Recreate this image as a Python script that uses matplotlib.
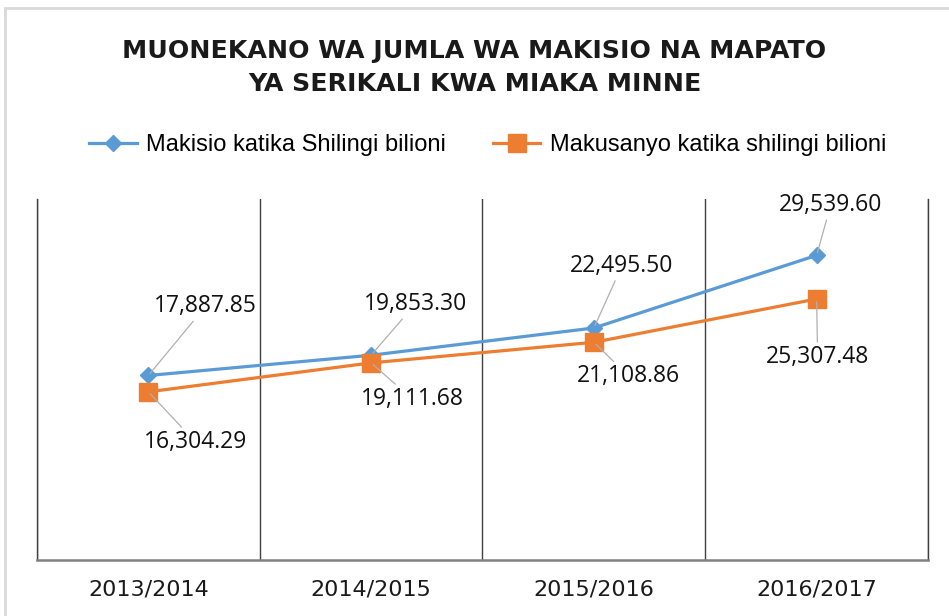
import numpy as np
import matplotlib
matplotlib.use("Agg")
import matplotlib.pyplot as plt
from matplotlib.patches import Rectangle

# DATA ------------------------------------------------------------------------
years = ["2013/2014", "2014/2015", "2015/2016", "2016/2017"]
makisio = [17887.85, 19853.30, 22495.50, 29539.60]
makusanyo = [16304.29, 19111.68, 21108.86, 25307.48]
name_makisio = "Makisio katika Shilingi bilioni"
name_makusanyo = "Makusanyo katika shilingi bilioni"
title = "MUONEKANO WA JUMLA WA MAKISIO NA MAPATO\nYA SERIKALI KWA MIAKA MINNE"

# label offsets in pixels (label centre relative to point)
off_makisio = [(57, 69), (44, 51), (28, 62), (14, 50)]
off_makusanyo = [(47, -50), (41, -36), (35, -34), (1, -58)]

blue = "#5B9BD5"
orange = "#ED7D31"

# PLOT ------------------------------------------------------------------------
fig = plt.figure(figsize=(9.49, 6.16), dpi=100)
ax = fig.add_axes([37 / 949, 56 / 616, 891 / 949, 361 / 616])

x = np.arange(len(years))
ax.plot(x, makisio, color=blue, lw=2.3, marker="D", ms=8.5, label=name_makisio)
ax.plot(x, makusanyo, color=orange, lw=2.3, marker="s", ms=12.5, label=name_makusanyo)

ax.set_xlim(-0.5, len(years) - 0.5)
ax.set_ylim(0, 35000)
ax.set_yticks([])
ax.set_xticks(x)
ax.set_xticklabels(years, fontsize=16, family="DejaVu Sans", color="#1a1a1a")
ax.set_xticks(np.arange(len(years) + 1) - 0.5, minor=True)
ax.tick_params(axis="x", which="both", length=0, pad=14)
ax.grid(which="minor", axis="x", color="#404040", lw=1)

for side in ["left", "right"]:
    ax.spines[side].set_color("#404040")
    ax.spines[side].set_linewidth(1)
ax.spines["top"].set_visible(False)
ax.spines["bottom"].set_color("#808080")
ax.spines["bottom"].set_linewidth(1.8)

# data labels with leader lines
for vals, offs in [(makisio, off_makisio), (makusanyo, off_makusanyo)]:
    for xi, v, (dx, dy) in zip(x, vals, offs):
        ax.annotate(f"{v:,.2f}", xy=(xi, v), xytext=(dx, dy),
                    textcoords="offset pixels", ha="center", va="center",
                    fontsize=16.5, family="Open Sans", color="#111111",
                    arrowprops=dict(arrowstyle="-", color="#b0b0b0", lw=0.9,
                                    shrinkA=0, shrinkB=2))

fig.text(0.5, 1 - 67.5 / 616, title, ha="center", va="center",
         fontsize=18.2, fontweight="bold", family="DejaVu Sans",
         linespacing=1.45, color="#1a1a1a")

fig.legend(loc="center", bbox_to_anchor=(0.514, 1 - 145 / 616), ncol=2,
           frameon=False, handlelength=2.0, handletextpad=0.4,
           columnspacing=2.0, prop={"family": "Liberation Sans", "size": 17})

# light gray chart border
fig.patches.append(Rectangle((5 / 949, -0.1), 1.1, 1 - 8 / 616 + 0.1,
                             transform=fig.transFigure, fill=False,
                             edgecolor="#d9d9d9", lw=2))

fig.savefig("out.png", dpi=100, facecolor="white")
